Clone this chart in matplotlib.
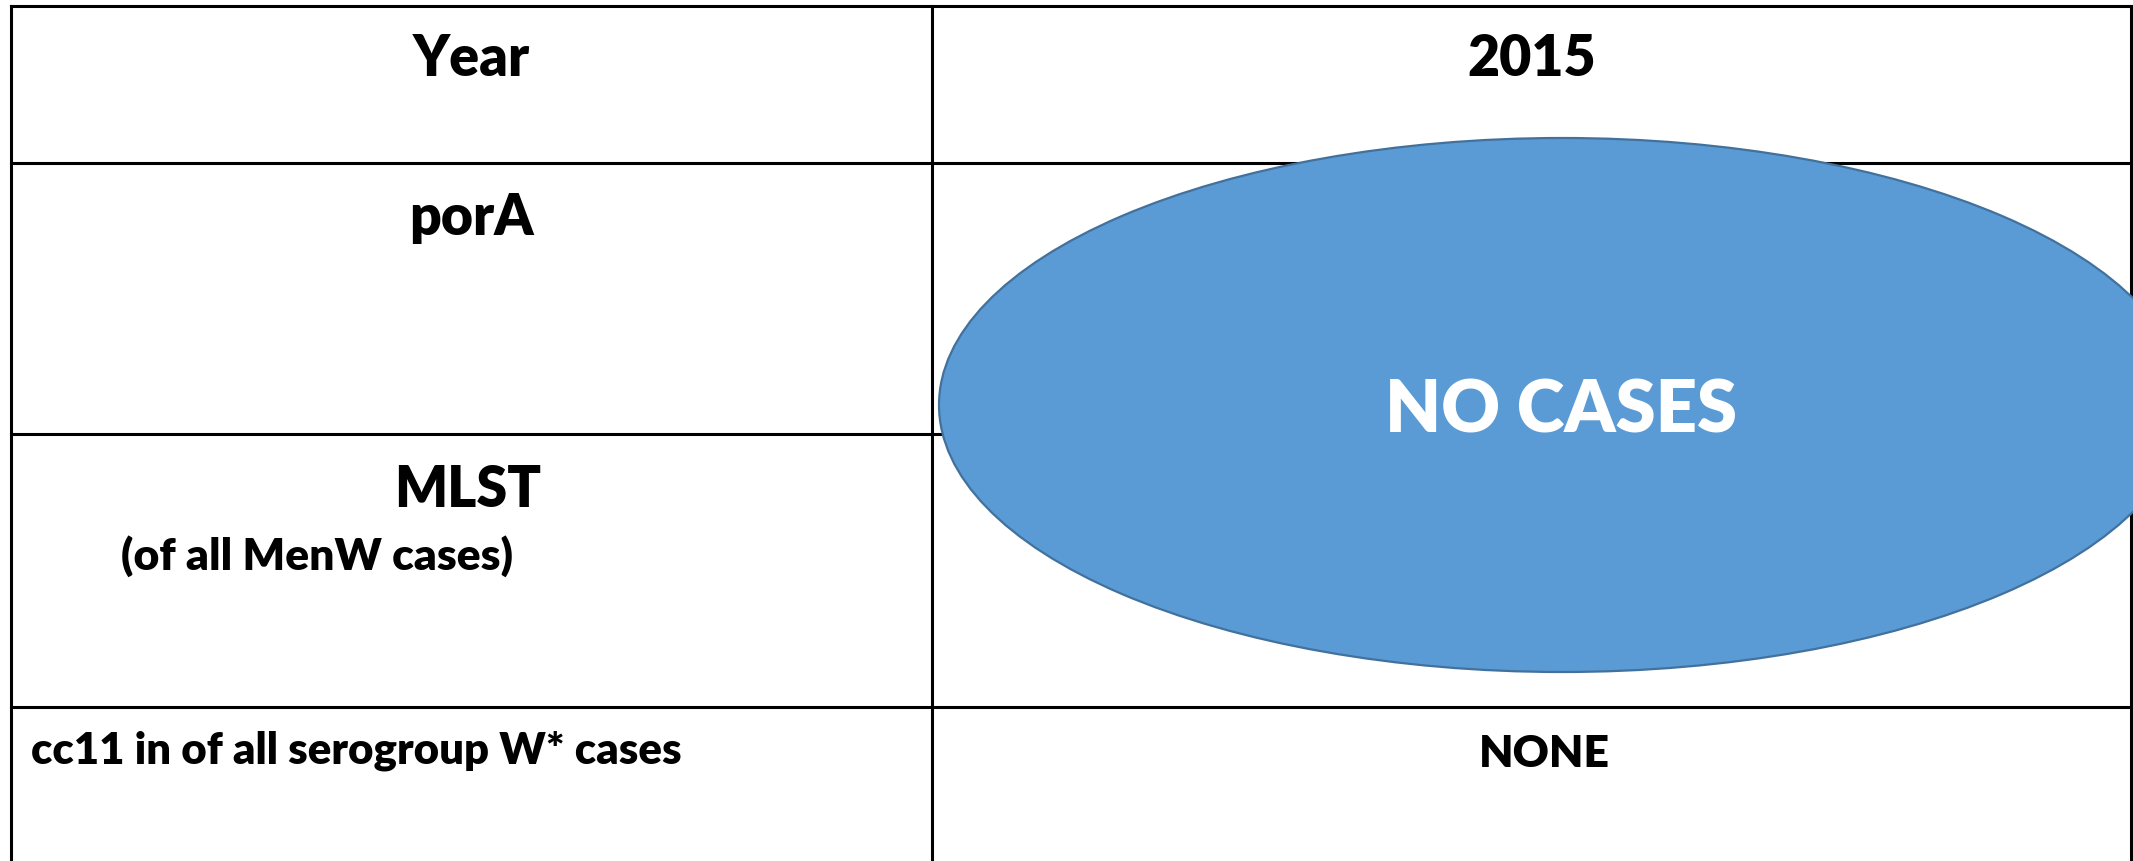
import matplotlib
matplotlib.use("Agg")
import matplotlib.pyplot as plt
from matplotlib.patches import Ellipse

# --- table content ---
header_labels = ["Year", "2015"]
row_labels = ["porA", "MLST", "cc11 in of all serogroup W* cases"]
row_notes = ["", "(of all MenW cases)", ""]
merged_value = "NO CASES"      # spans the porA and MLST rows
last_value = "NONE"

# --- layout (pixel coords, y downwards) ---
W, H = 2133, 862
col_edges = [11, 932, 2131]
row_edges = [7, 164, 435, 708]

blue = "#5B9BD5"
blue_edge = "#41719C"
font = ["Lato", "DejaVu Sans"]
weight = "heavy"

fig = plt.figure(figsize=(W / 100, H / 100), dpi=100, facecolor="white")
ax = fig.add_axes([0, 0, 1, 1])
ax.set_xlim(0, W)
ax.set_ylim(H, 0)
ax.axis("off")

# grid lines
for y in row_edges:
    ax.plot([col_edges[0], col_edges[-1]], [y, y], color="black", lw=2.2,
            solid_capstyle="projecting", zorder=1)
for x in col_edges:
    ax.plot([x, x], [row_edges[0], H], color="black", lw=2.2,
            solid_capstyle="projecting", zorder=1)

left_c = (col_edges[0] + col_edges[1]) / 2
right_c = (col_edges[1] + col_edges[2]) / 2

# header row
ax.text(left_c, 76, header_labels[0], ha="center", va="baseline",
        fontsize=40, fontweight=weight, family=font, zorder=3)
ax.text(right_c, 76, header_labels[1], ha="center", va="baseline",
        fontsize=40, fontweight=weight, family=font, zorder=3)

# left column labels
ax.text(left_c, 235, row_labels[0], ha="center", va="baseline",
        fontsize=40, fontweight=weight, family=font, zorder=3)
ax.text(left_c - 4, 507, row_labels[1], ha="center", va="baseline",
        fontsize=40, fontweight=weight, family=font, zorder=3)
ax.text(121, 570, row_notes[1], ha="left", va="baseline",
        fontsize=32, fontweight=weight, family=font, zorder=3)
ax.text(31, 764, row_labels[2], ha="left", va="baseline",
        fontsize=31.5, fontweight=weight, family=font, zorder=3)

# merged cell shape
ell = Ellipse((1562, 406), 1246, 534, facecolor=blue, edgecolor=blue_edge,
              lw=1.6, zorder=2)
ax.add_patch(ell)
ax.text(1561, 433, merged_value, ha="center", va="baseline", color="white",
        fontsize=52, fontweight=weight, family=font, zorder=3)

ax.text(1544, 767, last_value, ha="center", va="baseline",
        fontsize=32, fontweight=weight, family=font, zorder=3)

fig.savefig("out.png", dpi=100, facecolor="white")
